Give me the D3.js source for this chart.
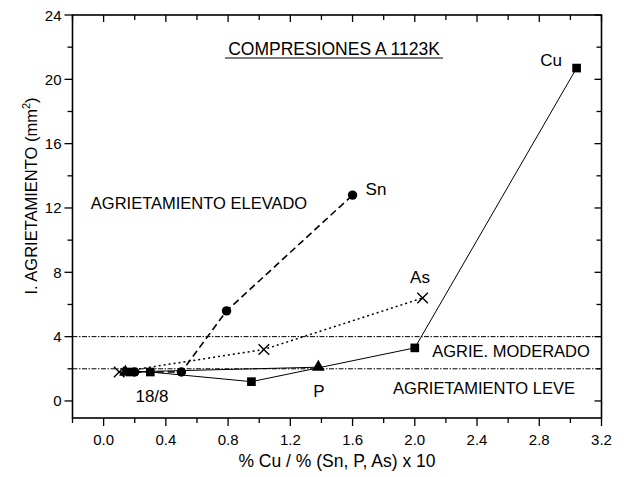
<!DOCTYPE html>
<html>
<head>
<meta charset="utf-8">
<script src="https://d3js.org/d3.v7.min.js"></script>
<style>
body { margin: 0; background: #fff; }
text { font-family: "Liberation Sans", Arial, sans-serif; fill: #000; }
</style>
</head>
<body>
<div id="chart"></div>
<script>
// data
let cuX = [0.17, 0.30, 0.95, 2.00, 3.04];
let cuY = [1.8, 1.8, 1.2, 3.3, 20.7];
let snX = [0.20, 0.50, 0.79, 1.60];
let snY = [1.8, 1.8, 5.6, 12.8];
let asX = [0.10, 1.03, 2.05];
let asY = [1.8, 3.2, 6.4];
let pX = [0.14, 1.38];
let pY = [1.8, 2.1];
let limits = [2, 4];
let xTicks = [0.0, 0.4, 0.8, 1.2, 1.6, 2.0, 2.4, 2.8, 3.2];
let yTicks = [0, 4, 8, 12, 16, 20, 24];

let width = 624, height = 477;
let svg = d3.select("#chart").append("svg")
    .attr("width", width)
    .attr("height", height);

let x = d3.scaleLinear().domain([-0.2, 3.2]).range([72.5, 601.5]);
let y = d3.scaleLinear().domain([-1.06, 24]).range([418, 15]);

let xMinor = d3.range(-0.2, 3.21, 0.2);
let yMinor = d3.range(0, 24.1, 2);

// frame
svg.append("rect")
    .attr("x", x.range()[0]).attr("y", y.range()[1])
    .attr("width", x.range()[1] - x.range()[0])
    .attr("height", y.range()[0] - y.range()[1])
    .attr("fill", "none").attr("stroke", "#000").attr("stroke-width", 1.6);

// bottom axis (ticks out)
let bottom = svg.append("g").attr("transform", "translate(0," + y.range()[0] + ")");
bottom.selectAll("line").data(xMinor).enter().append("line")
    .attr("x1", d => x(d)).attr("x2", d => x(d))
    .attr("y1", 0).attr("y2", d => (Math.abs(Math.round(d * 10) % 4) == 0 ? 8 : 5))
    .attr("stroke", "#000").attr("stroke-width", 1.3);
bottom.selectAll("text").data(xTicks).enter().append("text")
    .attr("x", d => x(d)).attr("y", 27)
    .attr("text-anchor", "middle").style("font-size", "15px")
    .text(d => d.toFixed(1));

// top axis (ticks in)
svg.selectAll("line.top").data(xMinor).enter().append("line")
    .attr("x1", d => x(d)).attr("x2", d => x(d))
    .attr("y1", y.range()[1]).attr("y2", d => y.range()[1] + (Math.abs(Math.round(d * 10) % 4) == 0 ? 7 : 5))
    .attr("stroke", "#000").attr("stroke-width", 1.3);

// left axis (ticks out)
let left = svg.append("g").attr("transform", "translate(" + x.range()[0] + ",0)");
left.selectAll("line").data(yMinor).enter().append("line")
    .attr("y1", d => y(d)).attr("y2", d => y(d))
    .attr("x1", 0).attr("x2", d => (d % 4 == 0 ? -8 : -5))
    .attr("stroke", "#000").attr("stroke-width", 1.3);
left.selectAll("text").data(yTicks).enter().append("text")
    .attr("x", -11).attr("y", d => y(d) + 5.5)
    .attr("text-anchor", "end").style("font-size", "15px")
    .text(d => d);

// right axis (ticks in)
svg.selectAll("line.right").data(yMinor).enter().append("line")
    .attr("y1", d => y(d)).attr("y2", d => y(d))
    .attr("x1", x.range()[1]).attr("x2", d => x.range()[1] - (d % 4 == 0 ? 7 : 5))
    .attr("stroke", "#000").attr("stroke-width", 1.3);

// limit lines
svg.selectAll("line.limit").data(limits).enter().append("line")
    .attr("x1", x.range()[0]).attr("x2", x.range()[1])
    .attr("y1", d => y(d)).attr("y2", d => y(d))
    .attr("stroke", "#000").attr("stroke-width", 1)
    .attr("stroke-dasharray", "5,1.5,1.5,1.5");

// series
function pts(xs, ys) { return xs.map((v, i) => [v, ys[i]]); }
let line = d3.line().x(d => x(d[0])).y(d => y(d[1]));

let series = [
    {name: "As", data: pts(asX, asY), dash: "2,3", w: 1.5},
    {name: "Sn", data: pts(snX, snY), dash: "7,4", w: 1.6},
    {name: "P", data: pts(pX, pY), dash: null, w: 1},
    {name: "Cu", data: pts(cuX, cuY), dash: null, w: 1}
];
series.forEach(function(s){
    svg.append("path")
        .attr("d", line(s.data))
        .attr("fill", "none").attr("stroke", "#000")
        .attr("stroke-width", s.w)
        .attr("stroke-dasharray", s.dash);
});

let sym = {
    Cu: d3.symbol().type(d3.symbolSquare).size(75),
    Sn: d3.symbol().type(d3.symbolCircle).size(70),
    P: d3.symbol().type(d3.symbolTriangle).size(70),
    As: d3.symbol().type(d3.symbolTimes).size(75)
};
series.forEach(function(s){
    svg.selectAll(null).data(s.data).enter().append("path")
        .attr("transform", d => "translate(" + x(d[0]) + "," + y(d[1]) + ")")
        .attr("d", sym[s.name]())
        .attr("fill", s.name == "As" ? "none" : "#000")
        .attr("stroke", "#000")
        .attr("stroke-width", s.name == "As" ? 1.4 : 0);
});

// labels
let labels = [
    {t: "Sn", x: 376, y: 195},
    {t: "As", x: 420, y: 283},
    {t: "Cu", x: 551, y: 66},
    {t: "P", x: 319, y: 397},
    {t: "18/8", x: 152, y: 402}
];
svg.selectAll("text.lab").data(labels).enter().append("text")
    .attr("x", d => d.x).attr("y", d => d.y)
    .attr("text-anchor", "middle").style("font-size", "17px")
    .text(d => d.t);

let notes = [
    {t: "AGRIETAMIENTO ELEVADO", x: 199, y: 209},
    {t: "AGRIE. MODERADO", x: 511, y: 357},
    {t: "AGRIETAMIENTO LEVE", x: 484, y: 394}
];
svg.selectAll("text.note").data(notes).enter().append("text")
    .attr("x", d => d.x).attr("y", d => d.y)
    .attr("text-anchor", "middle").style("font-size", "16.5px")
    .text(d => d.t);

svg.append("text")
    .attr("x", 334).attr("y", 55)
    .attr("text-anchor", "middle").style("font-size", "17.5px")
    .text("COMPRESIONES A 1123K");
svg.append("line")
    .attr("x1", 225).attr("x2", 443).attr("y1", 58).attr("y2", 58)
    .attr("stroke", "#000").attr("stroke-width", 1);

// axis titles
svg.append("text")
    .attr("x", 337).attr("y", 467)
    .attr("text-anchor", "middle").style("font-size", "17.5px")
    .text("% Cu / % (Sn, P, As) x 10");
let yt = svg.append("text")
    .attr("transform", "translate(37,196) rotate(-90)")
    .attr("text-anchor", "middle").style("font-size", "16.5px");
yt.append("tspan").text("I. AGRIETAMIENTO (mm");
yt.append("tspan").attr("dy", -7).style("font-size", "11px").text("2");
yt.append("tspan").attr("dy", 7).text(")");
</script>
</body>
</html>
